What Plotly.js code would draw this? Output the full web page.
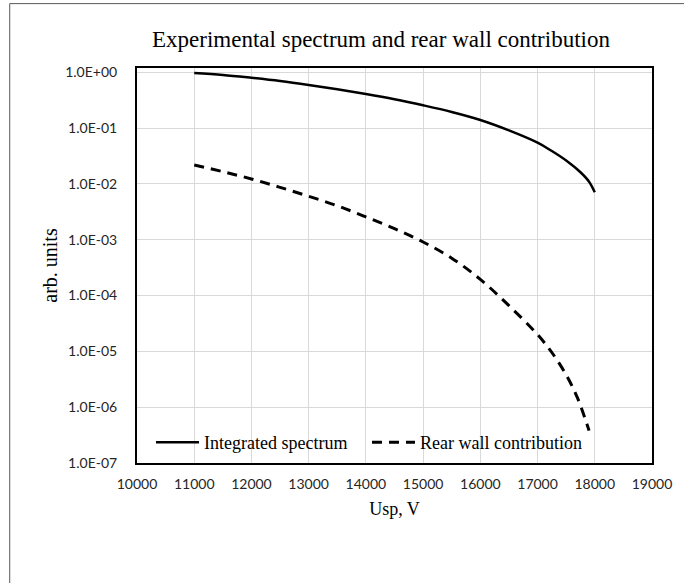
<!DOCTYPE html>
<html>
<head>
<meta charset="utf-8">
<script src="https://cdn.plot.ly/plotly-3.0.1.min.js"></script>
<style>
html,body{margin:0;padding:0;background:#fff;}
#chart{width:684px;height:583px;}
</style>
</head>
<body>
<div id="chart"></div>
<script>
// Data
var integratedX = [11000, 11500, 12000, 12500, 13000, 13500, 14000, 14500, 15000, 15500, 16000, 16500, 17000, 17250, 17500, 17750, 17900, 18000];
var integratedY = [0.97, 0.90, 0.80, 0.70, 0.596, 0.499, 0.41, 0.33, 0.257, 0.195, 0.14, 0.0912, 0.055, 0.0389, 0.0263, 0.0162, 0.011, 0.0071];

var rearX = [11000, 11500, 12000, 12500, 13000, 13500, 14000, 14500, 15000, 15500, 16000, 16500, 17000, 17250, 17500, 17700, 17900];
var rearY = [0.0219, 0.0166, 0.0123, 0.0087, 0.00603, 0.00407, 0.00257, 0.00158, 0.000912, 0.000468, 0.000195, 0.0000661, 0.00002, 0.00000955, 0.0000038, 0.00000145, 0.00000038];

var yTickVals = [1e0, 1e-1, 1e-2, 1e-3, 1e-4, 1e-5, 1e-6, 1e-7];
var yTickText = ["1.0E+00", "1.0E-01", "1.0E-02", "1.0E-03", "1.0E-04", "1.0E-05", "1.0E-06", "1.0E-07"];
var xTickVals = [10000, 11000, 12000, 13000, 14000, 15000, 16000, 17000, 18000, 19000];

var serif = "'Liberation Serif', 'Times New Roman', serif";
var sans = "Lato, 'Liberation Sans', sans-serif";

var traces = [
  {
    x: integratedX, y: integratedY, type: 'scatter', mode: 'lines',
    name: 'Integrated spectrum',
    line: {color: '#000000', width: 2.5, shape: 'spline', smoothing: 1}
  },
  {
    x: rearX, y: rearY, type: 'scatter', mode: 'lines',
    name: 'Rear wall contribution',
    line: {color: '#000000', width: 3, dash: '10px,7px', shape: 'spline', smoothing: 1}
  }
];

var ml = 137, mr = 684 - 652.5, mt = 67.7, mb = 583 - 462.8;
var pw = 684 - ml - mr, ph = 583 - mt - mb;
function px2paperX(px){ return (px - ml) / pw; }
function px2paperY(py){ return (583 - mb - py) / ph; }

var layout = {
  width: 684, height: 583,
  margin: {l: ml, r: mr, t: mt, b: mb, pad: 0},
  paper_bgcolor: '#ffffff', plot_bgcolor: '#ffffff',
  showlegend: true,
  title: {
    text: 'Experimental spectrum and rear wall contribution',
    font: {family: serif, size: 23, color: '#000000'},
    xref: 'container', yref: 'container',
    x: 381 / 684, xanchor: 'center',
    y: 1 - 38.5 / 583, yanchor: 'middle'
  },
  xaxis: {
    type: 'linear',
    range: [10000, 19000],
    tickvals: xTickVals,
    tickformat: 'd',
    showgrid: true, gridcolor: '#d9d9d9', gridwidth: 1,
    zeroline: false,
    showline: true, linecolor: '#000000', linewidth: 2, mirror: true,
    ticks: '', ticklabelstandoff: 7,
    tickfont: {family: sans, size: 14, color: '#262626'},
    title: {text: 'Usp, V', font: {family: serif, size: 18, color: '#000000'}, standoff: 12},
    automargin: false
  },
  yaxis: {
    type: 'log',
    range: [-7, 0.078],
    tickvals: yTickVals,
    ticktext: yTickText,
    showgrid: true, gridcolor: '#d9d9d9', gridwidth: 1,
    zeroline: false,
    showline: true, linecolor: '#000000', linewidth: 2, mirror: true,
    ticks: '', ticklabelstandoff: 15,
    tickfont: {family: sans, size: 14, color: '#262626'},
    title: {text: 'arb. units', font: {family: serif, size: 20, color: '#000000'}, standoff: 2},
    automargin: false
  },
  legend: {
    orientation: 'h',
    x: px2paperX(151), xanchor: 'left',
    y: px2paperY(442.4), yanchor: 'middle',
    bgcolor: 'rgba(255,255,255,0)',
    borderwidth: 0,
    font: {family: serif, size: 18, color: '#000000'},
    itemwidth: 43,
    entrywidth: 158,
    tracegroupgap: 0
  },
  shapes: [
    {type: 'line', xref: 'paper', yref: 'paper',
     x0: px2paperX(9.6), x1: px2paperX(9.6), y0: px2paperY(3.3), y1: px2paperY(590),
     line: {color: '#595959', width: 1}},
    {type: 'line', xref: 'paper', yref: 'paper',
     x0: px2paperX(9.6), x1: px2paperX(700), y0: px2paperY(3.3), y1: px2paperY(3.3),
     line: {color: '#595959', width: 1}}
  ]
};

Plotly.newPlot('chart', traces, layout, {displayModeBar: false, staticPlot: true});
</script>
</body>
</html>
